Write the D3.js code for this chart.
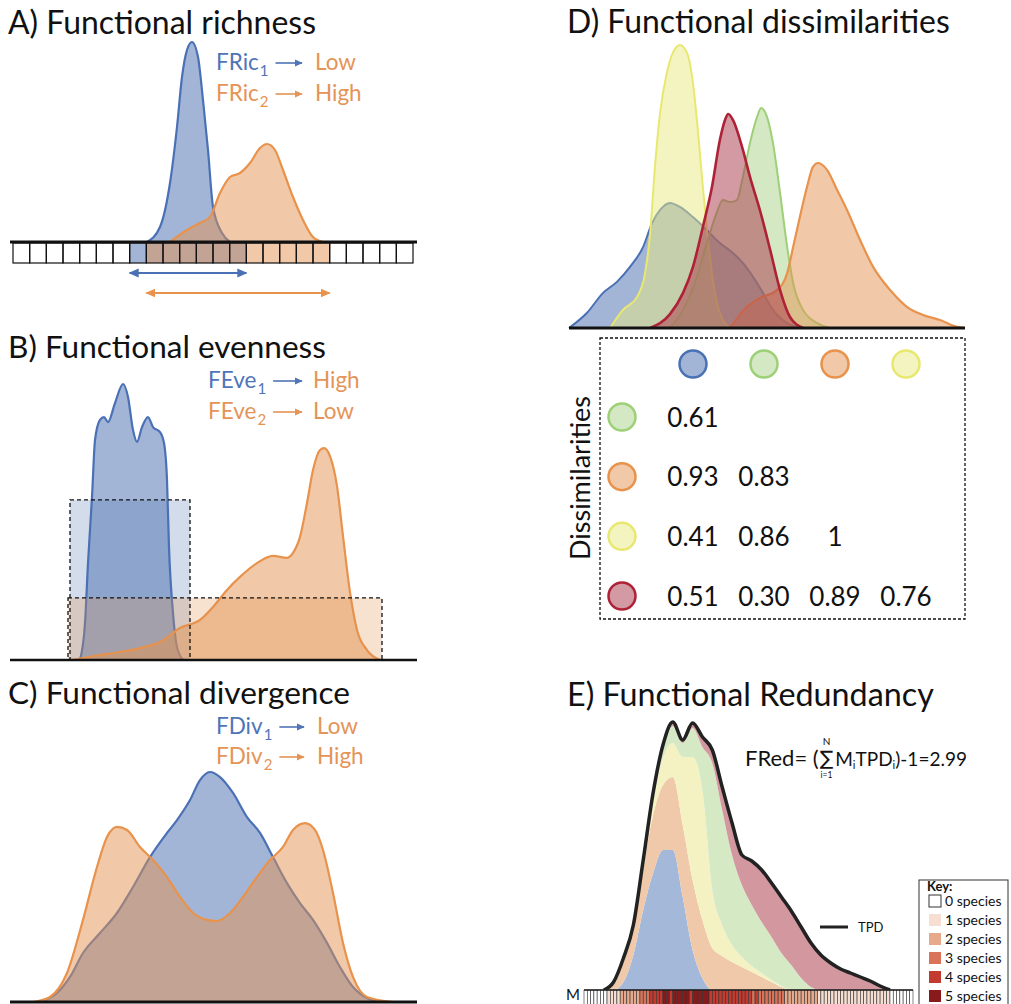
<!DOCTYPE html>
<html>
<head>
<meta charset="utf-8">
<script src="https://cdn.jsdelivr.net/npm/d3@7"></script>
<style>
  body { margin: 0; background: #fff; }
  svg { display: block; }
  text { font-family: Lato, "Open Sans", sans-serif; }
</style>
</head>
<body>
<svg id="fig" width="1011" height="1004"></svg>
<script>
// ---------------- A) Functional richness (trait axis in grid-cell units) ----------------
const richCellCount = 24;
const richTrait1 = [8.04, 8.82, 9.42, 9.84, 10.14, 10.44, 10.74, 11.1, 11.4, 11.7, 12.0, 12.54, 13.02];
const richDens1  = [0, 0.075, 0.295, 0.575, 0.825, 0.96, 1.0, 0.925, 0.71, 0.46, 0.175, 0.045, 0];
const richTrait2 = [9.42, 10.44, 11.22, 11.82, 12.42, 13.02, 13.62, 14.22, 14.82, 15.24, 15.72, 16.2, 16.8, 17.4, 18.0, 18.6];
const richDens2  = [0, 0.06, 0.095, 0.125, 0.245, 0.325, 0.345, 0.395, 0.47, 0.49, 0.46, 0.36, 0.225, 0.11, 0.025, 0];
const richRange1 = [7, 14];   // occupied cells [first, end)
const richRange2 = [8, 19];

// ---------------- B) Functional evenness ----------------
const evenTrait1 = [16.75, 18, 18.75, 19.75, 20.5, 21.75, 22.75, 23.75, 25.5, 27.5, 28.75, 30, 31, 32.25, 33.75, 35, 36.75, 37.75, 38.5, 39, 40, 41, 42.5];
const evenDens1  = [0, 0.134, 0.351, 0.59, 0.797, 0.87, 0.88, 0.862, 0.931, 1.0, 0.953, 0.833, 0.79, 0.844, 0.88, 0.844, 0.826, 0.786, 0.652, 0.409, 0.17, 0.047, 0];
const evenTrait2 = [15, 21.75, 26.75, 31.75, 36.75, 41.75, 46.75, 50, 53.5, 56.75, 61, 65, 68.5, 70, 71.75, 73.5, 75, 76.75, 77.75, 79.25, 81, 82.5, 84.25, 86, 88.5, 91.75];
const evenDens2  = [0, 0.018, 0.029, 0.043, 0.065, 0.116, 0.145, 0.192, 0.254, 0.301, 0.351, 0.377, 0.37, 0.388, 0.446, 0.569, 0.688, 0.761, 0.768, 0.739, 0.63, 0.449, 0.246, 0.109, 0.036, 0];
const evenBoxFrom  = [14.25, 13.75];
const evenBoxTo    = [44.25, 92.25];
const evenBoxLevel = [0.58, 0.225];

// ---------------- C) Functional divergence ----------------
const divTrait1 = [6.75, 11, 14.25, 17.5, 21.75, 26, 30, 34.25, 38.5, 41, 44.25, 46.75, 49.25, 51.75, 55, 58.5, 61.75, 65, 68.5, 71.75, 75, 78.5, 81.75, 85, 88.5, 91.75];
const divDens1  = [0, 0.039, 0.109, 0.213, 0.3, 0.387, 0.5, 0.63, 0.735, 0.791, 0.878, 0.965, 1.0, 0.978, 0.909, 0.804, 0.735, 0.63, 0.517, 0.43, 0.357, 0.257, 0.152, 0.065, 0.017, 0];
const divTrait2 = [5, 9.25, 13.5, 17.5, 21, 23.5, 26, 28.5, 31.75, 35, 38.5, 41.75, 45, 48.5, 51, 54.25, 57.5, 61, 64.25, 67.5, 70, 73, 75.5, 77.5, 80, 82.5, 85, 88.5, 95];
const divDens2  = [0, 0.022, 0.126, 0.357, 0.587, 0.717, 0.761, 0.748, 0.674, 0.617, 0.543, 0.457, 0.387, 0.357, 0.352, 0.387, 0.457, 0.543, 0.617, 0.674, 0.748, 0.778, 0.748, 0.661, 0.474, 0.257, 0.109, 0.022, 0];

// ---------------- D) Functional dissimilarities ----------------
const dissBlueTrait   = [0, 4.5, 8.6, 12.1, 15.4, 18.7, 21, 23, 25.5, 28, 31.3, 34.8, 38.1, 41.4, 43.9, 46.5, 49, 51.5, 55, 58.3];
const dissBlueDens    = [0, 0.053, 0.124, 0.163, 0.216, 0.286, 0.371, 0.417, 0.442, 0.428, 0.392, 0.346, 0.3, 0.265, 0.23, 0.18, 0.124, 0.064, 0.018, 0];
const dissYellowTrait = [10.4, 13.6, 17.2, 19.2, 20.5, 21.7, 23, 24.7, 26.3, 28, 29.8, 31.3, 32.6, 33.8, 35.1, 36.4, 38.1, 40.7];
const dissYellowDens  = [0, 0.064, 0.11, 0.194, 0.336, 0.569, 0.76, 0.901, 0.975, 1.0, 0.972, 0.866, 0.689, 0.498, 0.311, 0.159, 0.053, 0];
const dissGreenTrait  = [25.5, 28.8, 32.3, 34.8, 36.9, 38.9, 40.7, 42.4, 43.9, 45.7, 47.5, 48.5, 50, 51.5, 53.3, 55.1, 56.6, 59.1, 62.6, 65.9];
const dissGreenDens   = [0, 0.064, 0.18, 0.3, 0.392, 0.452, 0.445, 0.452, 0.534, 0.654, 0.746, 0.777, 0.746, 0.654, 0.477, 0.286, 0.159, 0.064, 0.018, 0];
const dissOrangeTrait = [40.7, 44.9, 48.2, 52.5, 55.1, 56.6, 58.3, 60.1, 61.6, 62.9, 65.2, 67.7, 70.2, 73.5, 76.8, 81.1, 85.4, 89.4, 93.7, 98, 100];
const dissOrangeDens  = [0, 0.074, 0.106, 0.134, 0.194, 0.286, 0.392, 0.498, 0.569, 0.583, 0.558, 0.488, 0.417, 0.311, 0.216, 0.134, 0.074, 0.046, 0.028, 0.004, 0];
const dissRedTrait    = [20.5, 25.5, 28.8, 31.3, 33.8, 36.1, 38.1, 39.4, 40.2, 41.4, 43.7, 45.7, 48.2, 50.8, 53.3, 55.8, 59.1];
const dissRedDens     = [0, 0.049, 0.124, 0.216, 0.357, 0.498, 0.664, 0.735, 0.756, 0.735, 0.64, 0.534, 0.417, 0.276, 0.134, 0.039, 0];

const dissColumns = ["blue", "green", "orange", "yellow"];
const dissRows    = ["green", "orange", "yellow", "red"];
const dissValues  = [
  [0.61],
  [0.93, 0.83],
  [0.41, 0.86, 1],
  [0.51, 0.30, 0.89, 0.76]
];

// ---------------- E) Functional Redundancy ----------------
const redTrait  = [6, 9, 12, 15, 18, 21, 24, 27, 30, 33, 36, 39, 42, 45, 48, 51, 54, 57, 60, 63, 66, 69, 72, 75, 78, 81, 84, 87, 90, 93];
const redBlue   = [0, 0, 0.08, 0.35, 0.80, 1.17, 1.40, 1.40, 0.93, 0.40, 0.12, 0, 0, 0, 0, 0, 0, 0, 0, 0, 0, 0, 0, 0, 0, 0, 0, 0, 0, 0];
const redPeach  = [0, 0.05, 0.20, 0.27, 0.42, 0.58, 0.65, 0.73, 0.72, 0.70, 0.58, 0.42, 0.34, 0.28, 0.23, 0.18, 0.13, 0.08, 0.03, 0, 0, 0, 0, 0, 0, 0, 0, 0, 0, 0];
const redYellow = [0, 0.01, 0.02, 0.01, 0.04, 0.13, 0.27, 0.34, 0.68, 1.23, 1.30, 0.58, 0.31, 0.17, 0.10, 0.06, 0.04, 0.02, 0.01, 0, 0, 0, 0, 0, 0, 0, 0, 0, 0, 0];
const redGreen  = [0, 0.01, 0.01, 0.01, 0.02, 0.06, 0.10, 0.17, 0.14, 0.29, 0.43, 1.27, 1.15, 0.90, 0.72, 0.61, 0.51, 0.43, 0.33, 0.25, 0.12, 0.03, 0, 0, 0, 0, 0, 0, 0, 0];
const redRed    = [0, 0.01, 0.01, 0.01, 0.02, 0.03, 0.03, 0.04, 0.03, 0.05, 0.10, 0.13, 0.23, 0.32, 0.30, 0.44, 0.52, 0.54, 0.56, 0.54, 0.51, 0.44, 0.35, 0.27, 0.21, 0.17, 0.13, 0.09, 0.04, 0];

// number of species present in each of the 100 trait cells
const stripCounts = [
  0,0,0,0,0,0,0, 1,1,1,1, 2,2,2,2,2,2, 3,3,3, 4,4,4,4,
  5,5,4,5,5,5,5,5,4,5,5,5,5,5,
  4,4,4,4,4,4,4,4,4,4,4,4, 4,3,4,
  3,3,3,3,3,3,3,3, 2,2,2,2,2,2,2,2,2,2,
  1,1,1,1,1,1,1,1,1,1,1,1,1,1,1,1,1,1,1,1,1,1,
  0,0,0,0,0,0,0
];
const keyLevels = [0, 1, 2, 3, 4, 5];
const keyColors = ["#ffffff", "#f6dfd2", "#e6a98c", "#d9735a", "#c33a30", "#881a1c"];

// ---------------- palette ----------------
const BLUE = "#476bad", BLUE_LINE = "#4a70b5";
const ORANGE = "#e39351", ORANGE_LINE = "#e8924c";
const GREEN = "#a9d189", GREEN_LINE = "#9dd077";
const YELLOW = "#e9e981", YELLOW_LINE = "#e8e870";
const RED = "#a93549", RED_LINE = "#ae2238";
const TXT_BLUE = "#4f74b8", TXT_ORANGE = "#e49456";
const speciesFill = { blue: BLUE, green: GREEN, orange: ORANGE, yellow: YELLOW, red: RED };
const speciesLine = { blue: BLUE_LINE, green: GREEN_LINE, orange: ORANGE_LINE, yellow: YELLOW_LINE, red: RED_LINE };

const svg = d3.select("#fig");
const defs = svg.append("defs");

function makeMarker(id, color, size) {
  defs.append("marker").attr("id", id)
    .attr("viewBox", "0 0 10 10").attr("refX", 9).attr("refY", 5)
    .attr("markerWidth", size).attr("markerHeight", size)
    .attr("markerUnits", "userSpaceOnUse").attr("orient", "auto-start-reverse")
    .append("path").attr("d", "M0,0.5 L10,5 L0,9.5 z").attr("fill", color);
}
makeMarker("headBlue", BLUE_LINE, 10);
makeMarker("headOrange", ORANGE_LINE, 10);
makeMarker("tipBlue", TXT_BLUE, 8);
makeMarker("tipOrange", TXT_ORANGE, 8);

function density(x, y, trait, dens, fill, stroke, width, opacity) {
  const pts = trait.map((t, i) => [t, dens[i]]);
  const area = d3.area().x(d => x(d[0])).y0(y(0)).y1(d => y(d[1])).curve(d3.curveMonotoneX);
  const line = d3.line().x(d => x(d[0])).y(d => y(d[1])).curve(d3.curveMonotoneX);
  svg.append("path").attr("d", area(pts)).attr("fill", fill).attr("fill-opacity", opacity);
  svg.append("path").attr("d", line(pts)).attr("fill", "none")
    .attr("stroke", stroke).attr("stroke-width", width).attr("stroke-linejoin", "round");
}

function panelTitle(x, y, txt, width) {
  const t = svg.append("text").attr("x", x).attr("y", y).attr("font-size", 32).attr("fill", "#111").text(txt);
  const w = t.node().getComputedTextLength();
  if (w > 0) t.attr("font-size", 32 * width / w);
}

// "Index_k -> Level" annotation lines
function indexLabel(x, y, name, sub, nameColor, arrowX1, resultX, result) {
  const t = svg.append("text").attr("x", x).attr("y", y).attr("font-size", 22.5).attr("fill", nameColor).text(name);
  const w = t.node().getComputedTextLength();
  const s = svg.append("text").attr("x", x + w + 1).attr("y", y + 6).attr("font-size", 15).attr("fill", nameColor).text(sub);
  const sw = s.node().getComputedTextLength();
  svg.append("line").attr("x1", x + w + sw + 8).attr("x2", arrowX1).attr("y1", y - 7).attr("y2", y - 7)
    .attr("stroke", nameColor).attr("stroke-width", 1.6)
    .attr("marker-end", nameColor === TXT_BLUE ? "url(#tipBlue)" : "url(#tipOrange)");
  svg.append("text").attr("x", resultX).attr("y", y).attr("font-size", 22.5).attr("fill", TXT_ORANGE).text(result);
}

// ================= A =================
{
  const x = d3.scaleLinear([0, richCellCount], [13, 413]);
  const y = d3.scaleLinear([0, 1], [242, 42]);
  panelTitle(8, 34, "A) Functional richness", 308);
  indexLabel(216, 70, "FRic", "1", TXT_BLUE, 302, 315, "Low");
  indexLabel(216, 101, "FRic", "2", TXT_ORANGE, 302, 315, "High");

  density(x, y, richTrait1, richDens1, BLUE, BLUE_LINE, 2.2, 0.5);
  density(x, y, richTrait2, richDens2, ORANGE, ORANGE_LINE, 2.2, 0.5);

  const cells = d3.range(richCellCount);
  const g = svg.append("g");
  g.selectAll(".w").data(cells).join("rect")
    .attr("x", d => x(d)).attr("width", x(1) - x(0)).attr("y", 243).attr("height", 20).attr("fill", "#fff");
  g.selectAll(".b").data(cells.filter(d => d >= richRange1[0] && d < richRange1[1])).join("rect")
    .attr("x", d => x(d)).attr("width", x(1) - x(0)).attr("y", 243).attr("height", 20)
    .attr("fill", BLUE).attr("fill-opacity", 0.5);
  g.selectAll(".o").data(cells.filter(d => d >= richRange2[0] && d < richRange2[1])).join("rect")
    .attr("x", d => x(d)).attr("width", x(1) - x(0)).attr("y", 243).attr("height", 20)
    .attr("fill", ORANGE).attr("fill-opacity", 0.5);
  g.selectAll(".e").data(cells).join("rect")
    .attr("x", d => x(d)).attr("width", x(1) - x(0)).attr("y", 243).attr("height", 20)
    .attr("fill", "none").attr("stroke", "#111").attr("stroke-width", 1.2);
  svg.append("line").attr("x1", 10).attr("x2", 417).attr("y1", 242).attr("y2", 242)
    .attr("stroke", "#111").attr("stroke-width", 3);

  svg.append("line").attr("x1", x(richRange1[0])).attr("x2", x(richRange1[1])).attr("y1", 273).attr("y2", 273)
    .attr("stroke", BLUE_LINE).attr("stroke-width", 2)
    .attr("marker-start", "url(#headBlue)").attr("marker-end", "url(#headBlue)");
  svg.append("line").attr("x1", x(richRange2[0])).attr("x2", x(richRange2[1])).attr("y1", 293).attr("y2", 293)
    .attr("stroke", ORANGE_LINE).attr("stroke-width", 2)
    .attr("marker-start", "url(#headOrange)").attr("marker-end", "url(#headOrange)");
}

// ================= B =================
{
  const x = d3.scaleLinear([0, 100], [13, 413]);
  const y = d3.scaleLinear([0, 1], [660, 384]);
  panelTitle(8, 358, "B) Functional evenness", 318);
  indexLabel(208, 388, "FEve", "1", TXT_BLUE, 302, 313, "High");
  indexLabel(208, 419, "FEve", "2", TXT_ORANGE, 302, 313, "Low");

  const box = i => svg.append("rect").attr("x", x(evenBoxFrom[i])).attr("width", x(evenBoxTo[i]) - x(evenBoxFrom[i]))
    .attr("y", y(evenBoxLevel[i])).attr("height", y(0) - y(evenBoxLevel[i]));
  box(0).attr("fill", BLUE).attr("fill-opacity", 0.24);
  density(x, y, evenTrait1, evenDens1, BLUE, BLUE_LINE, 2.2, 0.5);
  density(x, y, evenTrait2, evenDens2, ORANGE, ORANGE_LINE, 2.2, 0.5);
  box(1).attr("fill", ORANGE).attr("fill-opacity", 0.27);
  [0, 1].forEach(i => box(i).attr("fill", "none").attr("stroke", "#111").attr("stroke-width", 1.3).attr("stroke-dasharray", "4,3"));
  svg.append("line").attr("x1", 10).attr("x2", 417).attr("y1", 660).attr("y2", 660)
    .attr("stroke", "#111").attr("stroke-width", 2.5);
}

// ================= C =================
{
  const x = d3.scaleLinear([0, 100], [13, 413]);
  const y = d3.scaleLinear([0, 1], [1002, 772]);
  panelTitle(8, 704, "C) Functional divergence", 342);
  indexLabel(216, 734, "FDiv", "1", TXT_BLUE, 304, 317, "Low");
  indexLabel(216, 764, "FDiv", "2", TXT_ORANGE, 304, 317, "High");
  density(x, y, divTrait1, divDens1, BLUE, BLUE_LINE, 2.2, 0.5);
  density(x, y, divTrait2, divDens2, ORANGE, ORANGE_LINE, 2.2, 0.5);
  svg.append("line").attr("x1", 10).attr("x2", 417).attr("y1", 1002).attr("y2", 1002)
    .attr("stroke", "#111").attr("stroke-width", 3);
}

// ================= D =================
{
  const x = d3.scaleLinear([0, 100], [569, 965]);
  const y = d3.scaleLinear([0, 1], [328, 45]);
  panelTitle(567, 33, "D) Functional dissimilarities", 383);
  density(x, y, dissBlueTrait, dissBlueDens, BLUE, BLUE_LINE, 2, 0.5);
  density(x, y, dissYellowTrait, dissYellowDens, YELLOW, YELLOW_LINE, 2, 0.5);
  density(x, y, dissGreenTrait, dissGreenDens, GREEN, GREEN_LINE, 2, 0.5);
  density(x, y, dissOrangeTrait, dissOrangeDens, ORANGE, ORANGE_LINE, 2.2, 0.5);
  density(x, y, dissRedTrait, dissRedDens, RED, RED_LINE, 2.6, 0.5);
  svg.append("line").attr("x1", 569).attr("x2", 965).attr("y1", 328).attr("y2", 328)
    .attr("stroke", "#111").attr("stroke-width", 3);

  // dissimilarity table
  svg.append("rect").attr("x", 600).attr("y", 338).attr("width", 365).attr("height", 281)
    .attr("fill", "none").attr("stroke", "#111").attr("stroke-width", 1.3).attr("stroke-dasharray", "3,2");
  const cx = d3.scalePoint(dissColumns, [693, 906]);
  const ry = d3.scalePoint(dissRows, [417, 596]);
  const circ = (px, py, sp) => svg.append("circle").attr("cx", px).attr("cy", py).attr("r", 13.5)
    .attr("fill", speciesFill[sp]).attr("fill-opacity", 0.5)
    .attr("stroke", speciesLine[sp]).attr("stroke-width", 2.5);
  dissColumns.forEach(c => circ(cx(c), 364, c));
  dissRows.forEach(r => circ(622, ry(r), r));
  dissRows.forEach((r, i) => {
    dissValues[i].forEach((v, j) => {
      svg.append("text").attr("x", cx(dissColumns[j])).attr("y", ry(r) + 9.5)
        .attr("text-anchor", "middle").attr("font-size", 26).attr("fill", "#111")
        .text(v === 1 ? "1" : v.toFixed(2));
    });
  });
  svg.append("text").attr("transform", "translate(590,478) rotate(-90)")
    .attr("text-anchor", "middle").attr("font-size", 27).attr("fill", "#111").text("Dissimilarities");
}

// ================= E =================
{
  const x = d3.scaleLinear([0, 100], [584, 913]);
  const y = d3.scaleLinear([0, 3], [990, 690]);
  panelTitle(567, 706, "E) Functional Redundancy", 367);

  const keys = ["blue", "peach", "yellow", "green", "red"];
  const layerColors = ["#a4b9d9", "#f0c9aa", "#f4f2c2", "#d5e9c5", "#d3979f"];
  const rows = redTrait.map((t, i) => ({
    t, blue: redBlue[i], peach: redPeach[i], yellow: redYellow[i], green: redGreen[i], red: redRed[i]
  }));
  const series = d3.stack().keys(keys)(rows);
  const area = d3.area().x(d => x(d.data.t)).y0(d => y(d[0])).y1(d => y(d[1])).curve(d3.curveMonotoneX);
  svg.selectAll(".layer").data(series).join("path")
    .attr("d", area).attr("fill", (d, i) => layerColors[i]);
  const top = d3.line().x(d => x(d.data.t)).y(d => y(d[1])).curve(d3.curveMonotoneX);
  svg.append("path").attr("d", top(series[series.length - 1])).attr("fill", "none")
    .attr("stroke", "#222").attr("stroke-width", 3.5).attr("stroke-linejoin", "round");

  // occupancy strip
  svg.selectAll(".cell").data(stripCounts).join("rect")
    .attr("x", (d, i) => x(i)).attr("width", x(1) - x(0)).attr("y", 990).attr("height", 16)
    .attr("fill", d => keyColors[d]).attr("stroke", "#333").attr("stroke-width", 0.6);
  svg.append("line").attr("x1", x(0)).attr("x2", x(100)).attr("y1", 990).attr("y2", 990)
    .attr("stroke", "#222").attr("stroke-width", 1.5);
  svg.append("text").attr("x", 566).attr("y", 1000).attr("font-size", 15).attr("fill", "#111").text("M");

  // formula: FRed = (sum_{i=1}^{N} M_i TPD_i) - 1
  const f0 = svg.append("text").attr("x", 745).attr("y", 766).attr("font-size", 22).attr("fill", "#111").text("FRed= (");
  const sx = 745 + f0.node().getComputedTextLength() + 1;
  const sig = svg.append("text").attr("x", sx).attr("y", 765).attr("font-size", 20)
    .style("font-family", "'DejaVu Sans'").attr("fill", "#111").text("\u2211");
  const sw = sig.node().getComputedTextLength();
  svg.append("text").attr("x", sx + sw / 2).attr("y", 745).attr("text-anchor", "middle")
    .attr("font-size", 10).attr("fill", "#111").text("N");
  svg.append("text").attr("x", sx + sw / 2).attr("y", 778).attr("text-anchor", "middle")
    .attr("font-size", 8.5).attr("fill", "#111").text("i=1");
  const f = svg.append("text").attr("x", sx + sw + 2).attr("y", 766).attr("font-size", 19).attr("fill", "#111");
  f.append("tspan").text("M");
  f.append("tspan").attr("font-size", 11).attr("dy", 3).text("i");
  f.append("tspan").attr("dy", -3).text("TPD");
  f.append("tspan").attr("font-size", 11).attr("dy", 3).text("i");
  f.append("tspan").attr("dy", -3).text(")-1=2.99");

  // TPD legend
  svg.append("line").attr("x1", 820).attr("x2", 848).attr("y1", 927).attr("y2", 927)
    .attr("stroke", "#222").attr("stroke-width", 3);
  svg.append("text").attr("x", 858).attr("y", 932).attr("font-size", 13).attr("fill", "#111").text("TPD");

  // key
  svg.append("rect").attr("x", 919).attr("y", 880).attr("width", 89).attr("height", 140)
    .attr("fill", "#fff").attr("stroke", "#333").attr("stroke-width", 1);
  svg.append("text").attr("x", 927).attr("y", 891).attr("font-size", 13).attr("font-weight", "bold")
    .attr("fill", "#111").text("Key:");
  const ky = d3.scalePoint(keyLevels, [901, 996]);
  svg.selectAll(".keysq").data(keyLevels).join("rect")
    .attr("x", 929).attr("y", d => ky(d) - 6).attr("width", 12).attr("height", 12)
    .attr("fill", d => keyColors[d])
    .attr("stroke", d => d === 0 ? "#333" : "none").attr("stroke-width", 1);
  svg.selectAll(".keytx").data(keyLevels).join("text")
    .attr("x", 945).attr("y", d => ky(d) + 5).attr("font-size", 14).attr("fill", "#111")
    .text(d => d + " species");
}
</script>
</body>
</html>
